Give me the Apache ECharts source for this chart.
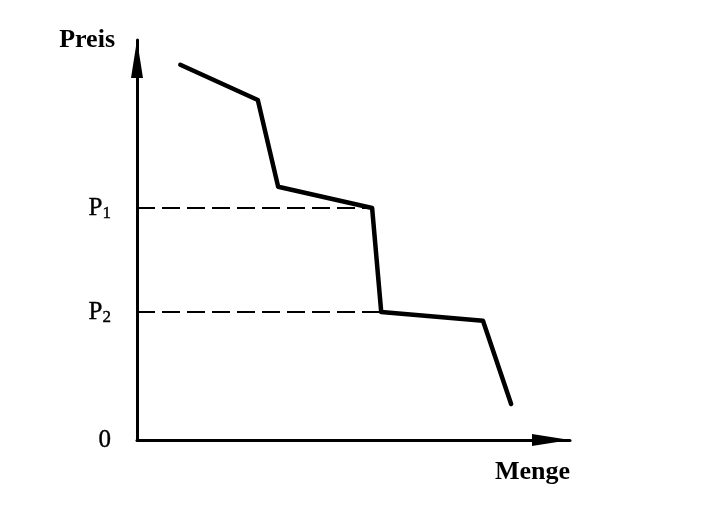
<!DOCTYPE html>
<html>
<head>
<meta charset="utf-8">
<script src="https://cdn.jsdelivr.net/npm/echarts@6/dist/echarts.min.js"></script>
<style>html,body{margin:0;padding:0;background:#fff}#c{width:708px;height:529px}</style>
</head>
<body>
<div id="c"></div>
<script>
// Demand curve (Menge, Preis) in axis units (0..100)
const curveMenge = [10, 27.9, 32.6, 54.3, 56.4, 79.9, 86.4];
const curvePreis = [93.8, 85, 63.3, 58, 32, 29.8, 9];
// Price levels
const priceNames = ['P1', 'P2'];
const priceValues = [58, 32];
const priceMenge = [54.3, 56.4];
// Axis labels
const yName = 'Preis';
const xName = 'Menge';
const originLabel = '0';

const serif = '"Liberation Serif", "DejaVu Serif", serif';
const chart = echarts.init(document.getElementById('c'));

const curveData = curveMenge.map((m, i) => [m, curvePreis[i]]);
const dashSeries = priceValues.map((p, i) => ({
  type: 'line',
  data: [[0, p], [priceMenge[i], p]],
  symbol: 'none',
  silent: true,
  lineStyle: { color: '#000', width: 2, type: [18, 7] },
  z: 1
}));

const labelData = [[0, 0, originLabel]].concat(priceValues.map((p, i) => [0, p, priceNames[i]]));

const axisLine = { show: true, symbol: ['none', 'triangle'], symbolSize: [12, 38], symbolOffset: [0, -19], lineStyle: { color: '#000', width: 3 } };

chart.setOption({
  animation: false,
  backgroundColor: '#fff',
  grid: { left: 137, right: 138, top: 40, bottom: 89 },
  xAxis: {
    type: 'value', min: 0, max: 100,
    name: xName, nameLocation: 'end', nameGap: 0,
    nameTextStyle: { fontFamily: serif, fontSize: 26, fontWeight: 'bold', color: '#000', align: 'right', verticalAlign: 'top', padding: [19, 0, 0, 0] },
    axisLine: axisLine,
    axisTick: { show: false }, axisLabel: { show: false }, splitLine: { show: false }
  },
  yAxis: {
    type: 'value', min: 0, max: 100,
    name: yName, nameLocation: 'end', nameGap: 0,
    nameTextStyle: { fontFamily: serif, fontSize: 26, fontWeight: 'bold', color: '#000', align: 'right', verticalAlign: 'middle', padding: [10, 22, 0, 0] },
    axisLine: axisLine,
    axisTick: { show: false }, axisLabel: { show: false }, splitLine: { show: false }
  },
  series: dashSeries.concat([
    {
      type: 'line',
      data: curveData,
      symbol: 'none',
      lineStyle: { color: '#000', width: 4.5, cap: 'round', join: 'round' },
      z: 3
    },
    {
      type: 'scatter',
      data: labelData,
      symbolSize: 0,
      silent: true,
      itemStyle: { opacity: 1, color: '#000' },
      label: {
        show: true, position: 'left', distance: 26,
        formatter: p => {
          const t = p.data[2];
          return t.length > 1 ? t[0] + '{s|' + t.slice(1) + '}' : t;
        },
        fontFamily: serif, fontSize: 25, color: '#000', opacity: 1,
        textBorderWidth: 0.4, textBorderColor: '#000',
        rich: { s: { fontFamily: serif, fontSize: 17, color: '#000', padding: [12, 0, 0, 0], textBorderWidth: 0.4, textBorderColor: '#000' } }
      }
    }
  ])
});
</script>
</body>
</html>
